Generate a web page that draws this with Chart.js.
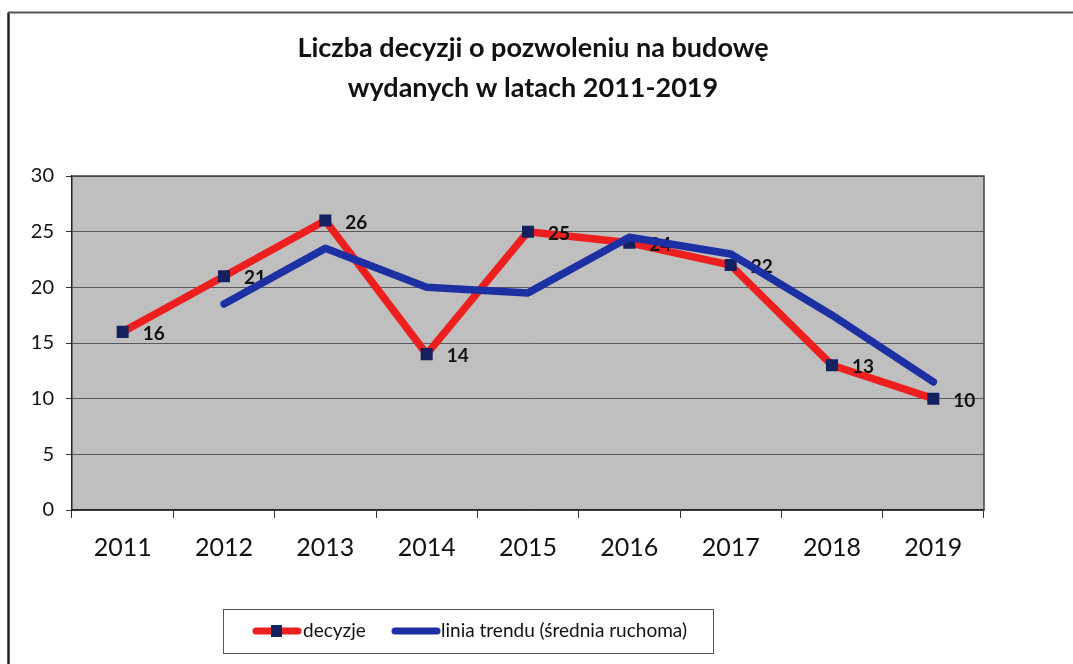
<!DOCTYPE html>
<html>
<head>
<meta charset="utf-8">
<style>
* {
  margin: 0;
  padding: 0;
}
body {
  background: #fff;
}
</style>
</head>
<body>
<canvas id="myChart" width="1073" height="664"></canvas>
<script src="https://cdn.jsdelivr.net/npm/chart.js"></script>
<script>
// data
const years = ['2011', '2012', '2013', '2014', '2015', '2016', '2017', '2018', '2019'];
const decyzje = [16, 21, 26, 14, 25, 24, 22, 13, 10];
const trend = [null, 18.5, 23.5, 20, 19.5, 24.5, 23, 17.5, 11.5];
const yMin = 0;
const yMax = 30;
const yStep = 5;
const titleLines = ['Liczba decyzji o pozwoleniu na budowę', 'wydanych w latach 2011-2019'];
const legendLabels = ['decyzje', 'linia trendu (średnia ruchoma)'];

const RED = '#ee1f1f';
const BLUE = '#1c2fa3';
const NAVY = '#15215f';
const FONT = 'Lato, "Open Sans", sans-serif';

// gray plot background + frame, outer page border, title
const framePlugin = {
  id: 'frame',
  beforeDraw(chart) {
    const { ctx, chartArea: a } = chart;
    ctx.save();
    ctx.fillStyle = '#fff';
    ctx.fillRect(0, 0, chart.width, chart.height);
    ctx.fillStyle = '#bfbfbf';
    ctx.fillRect(a.left, a.top, a.right - a.left, a.bottom - a.top);
    // outer border
    ctx.strokeStyle = '#222';
    ctx.lineWidth = 2.5;
    ctx.beginPath();
    ctx.moveTo(8.5, chart.height);
    ctx.lineTo(8.5, 12.5);
    ctx.stroke();
    ctx.strokeStyle = '#555';
    ctx.lineWidth = 2;
    ctx.beginPath();
    ctx.moveTo(8, 12.5);
    ctx.lineTo(chart.width, 12.5);
    ctx.stroke();
    // title
    ctx.fillStyle = '#111';
    ctx.font = 'bold 27px ' + FONT;
    ctx.textAlign = 'center';
    ctx.textBaseline = 'middle';
    ctx.fillText(titleLines[0], 533, 48);
    ctx.fillText(titleLines[1], 533, 88);
    ctx.restore();
  },
  afterDatasetsDraw(chart) {
    const { ctx, chartArea: a } = chart;
    ctx.save();
    ctx.strokeStyle = '#444';
    ctx.lineWidth = 1.5;
    ctx.beginPath();
    ctx.moveTo(a.left, a.top);
    ctx.lineTo(a.right, a.top);
    ctx.lineTo(a.right, a.bottom);
    ctx.stroke();
    ctx.restore();
  },
  afterDraw(chart) {
    const ctx = chart.ctx;
    ctx.save();
    // legend box
    ctx.strokeStyle = '#555';
    ctx.lineWidth = 1;
    ctx.strokeRect(223.5, 609.5, 490, 44);
    const cy = 631;
    ctx.lineCap = 'round';
    ctx.lineWidth = 7;
    ctx.strokeStyle = RED;
    ctx.beginPath();
    ctx.moveTo(256, cy);
    ctx.lineTo(298, cy);
    ctx.stroke();
    ctx.fillStyle = NAVY;
    ctx.fillRect(271, cy - 6, 11, 12);
    ctx.strokeStyle = BLUE;
    ctx.beginPath();
    ctx.moveTo(395, cy);
    ctx.lineTo(437, cy);
    ctx.stroke();
    ctx.fillStyle = '#111';
    ctx.font = '19px ' + FONT;
    ctx.textAlign = 'left';
    ctx.textBaseline = 'middle';
    ctx.fillText(legendLabels[0], 303, cy);
    ctx.fillText(legendLabels[1], 441, cy);
    ctx.restore();
  }
};

// value labels next to the red series, under the blue line
const labelPlugin = {
  id: 'valueLabels',
  afterDatasetDraw(chart, args) {
    if (args.index !== 0) return;
    const { ctx } = chart;
    const meta = chart.getDatasetMeta(0);
    ctx.save();
    ctx.font = 'bold 19px ' + FONT;
    ctx.fillStyle = '#111';
    ctx.textAlign = 'left';
    ctx.textBaseline = 'middle';
    meta.data.forEach((pt, i) => {
      ctx.fillText(String(decyzje[i]), pt.x + 20, pt.y + 2);
    });
    ctx.restore();
  }
};

const data = {
  labels: years,
  datasets: [{
    label: legendLabels[0],
    data: decyzje,
    borderColor: RED,
    backgroundColor: RED,
    borderWidth: 7.5,
    borderJoinStyle: 'round',
    borderCapStyle: 'round',
    tension: 0,
    pointStyle: 'rect',
    pointRadius: 8.5,
    pointHoverRadius: 8.5,
    pointBackgroundColor: NAVY,
    pointBorderWidth: 0,
    order: 2
  }, {
    label: legendLabels[1],
    data: trend,
    borderColor: BLUE,
    backgroundColor: BLUE,
    borderWidth: 7.5,
    borderJoinStyle: 'round',
    borderCapStyle: 'round',
    tension: 0,
    pointRadius: 0,
    order: 1
  }]
};

const config = {
  type: 'line',
  data,
  options: {
    responsive: false,
    animation: false,
    layout: {
      padding: { top: 176, right: 89, bottom: 94, left: 0 }
    },
    plugins: {
      legend: { display: false },
      title: { display: false },
      tooltip: { enabled: false }
    },
    scales: {
      x: {
        offset: true,
        grid: {
          offset: true,
          drawOnChartArea: false,
          drawTicks: true,
          tickLength: 8,
          color: '#333'
        },
        border: { color: '#222', width: 1.5 },
        ticks: {
          color: '#111',
          padding: 15,
          font: { family: FONT, size: 25 }
        },
        afterFit(scale) { scale.height = 60; }
      },
      y: {
        min: yMin,
        max: yMax,
        grid: {
          color: '#5a5a5a',
          lineWidth: 1,
          tickLength: 6,
          tickColor: '#333'
        },
        border: { color: '#222', width: 1.5 },
        ticks: {
          stepSize: yStep,
          color: '#111',
          padding: 12,
          font: { family: FONT, size: 20 }
        },
        afterFit(scale) { scale.width = 72; }
      }
    }
  },
  plugins: [framePlugin, labelPlugin]
};

const myChart = new Chart(document.getElementById('myChart'), config);
</script>
</body>
</html>
